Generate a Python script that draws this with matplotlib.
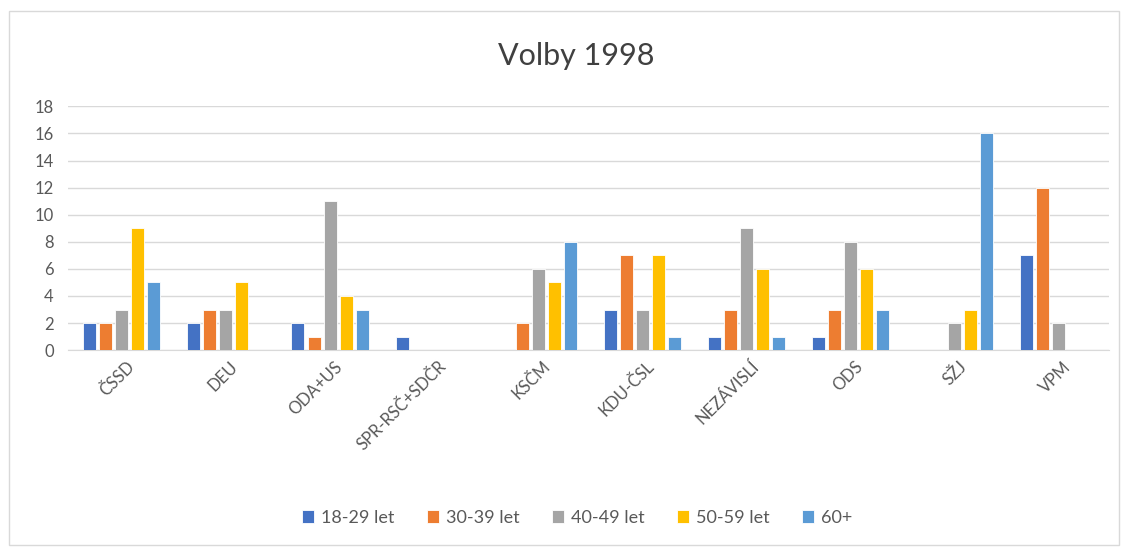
import numpy as np
import matplotlib.pyplot as plt
from matplotlib.patches import Rectangle

plt.rcParams['font.family'] = ['Lato', 'DejaVu Sans']

strany = ["ČSSD", "DEU", "ODA+US", "SPR-RSČ+SDČR", "KSČM", "KDU-ČSL",
          "NEZÁVISLÍ", "ODS", "SŽJ", "VPM"]
skupiny = ["18-29 let", "30-39 let", "40-49 let", "50-59 let", "60+"]
v18_29 = [2, 2, 2, 1, 0, 3, 1, 1, 0, 7]
v30_39 = [2, 3, 1, 0, 2, 7, 3, 3, 0, 12]
v40_49 = [3, 3, 11, 0, 6, 3, 9, 8, 2, 2]
v50_59 = [9, 5, 4, 0, 5, 7, 6, 6, 3, 0]
v60 = [5, 0, 3, 0, 8, 1, 1, 3, 16, 0]
barvy = ["#4472C4", "#ED7D31", "#A5A5A5", "#FFC000", "#5B9BD5"]

fig = plt.figure(figsize=(11.28, 5.48), dpi=100)
ax = fig.add_axes([0.06, 0.361, 0.923, 0.445])

x = np.arange(len(strany))
step = 0.154
width = 0.125
for i, (vals, lab) in enumerate(zip([v18_29, v30_39, v40_49, v50_59, v60], skupiny)):
    ax.bar(x + (i - 2) * step + 0.02, vals, width, color=barvy[i], label=lab,
           edgecolor="white", linewidth=0.6, zorder=3)

ax.set_xlim(-0.5, len(strany) - 0.5)
ax.set_ylim(0, 18)
ax.set_yticks(range(0, 19, 2))
ax.grid(axis="y", color="#D9D9D9", linewidth=1, zorder=0)
for s in ["top", "right", "left"]:
    ax.spines[s].set_visible(False)
ax.spines["bottom"].set_color("#D9D9D9")
ax.tick_params(axis="both", length=0, colors="#595959", labelsize=12)
ax.tick_params(axis="y", pad=10)
ax.set_xticks(x + 0.06)
ax.set_xticklabels(strany, rotation=45, ha="right", rotation_mode="anchor")
ax.tick_params(axis="x", pad=6)

fig.text(0.511, 0.898, "Volby 1998", ha="center", va="center", fontsize=22, color="#404040")

leg = fig.legend(loc="center", bbox_to_anchor=(0.512, 0.055), ncol=5, frameon=False,
                 fontsize=13, handlelength=0.65, handleheight=0.65, handletextpad=0.4,
                 columnspacing=1.8)
for t in leg.get_texts():
    t.set_color("#595959")

fig.patches.append(Rectangle((0.008, 0.005), 0.984, 0.975, transform=fig.transFigure,
                             fill=False, edgecolor="#D9D9D9", linewidth=1))

fig.savefig("out.png", dpi=100)
